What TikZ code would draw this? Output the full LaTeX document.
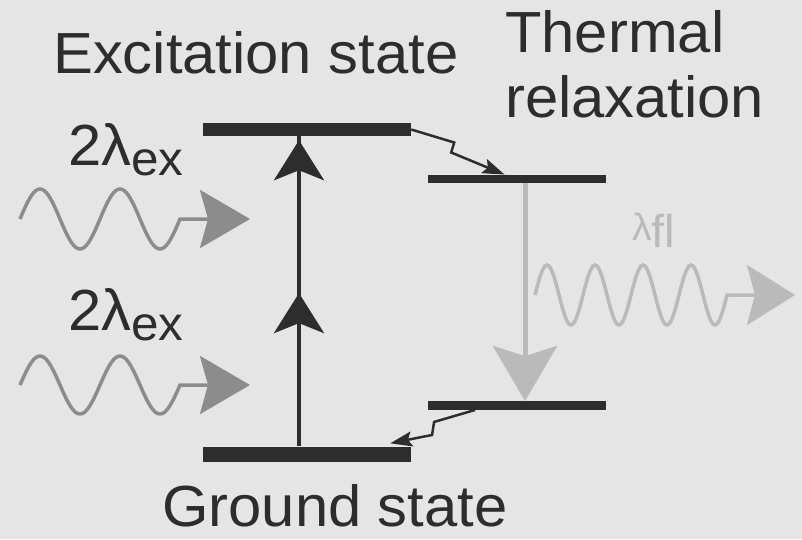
\documentclass[tikz,border=0pt]{standalone}
\usepackage{fontspec}
\setmainfont[FakeStretch=1.03]{Liberation Sans}
\usetikzlibrary{positioning, arrows.meta, calc, decorations.markings}
\definecolor{paper}{RGB}{229,229,229}
\definecolor{ink}{RGB}{45,45,45}
\definecolor{midgray}{RGB}{140,140,140}
\definecolor{palegray}{RGB}{186,186,186}

\begin{document}
\begin{tikzpicture}[x=1pt, y=-1pt,
  lbl/.style={inner sep=0pt, anchor=base west, text=ink, font=\fontsize{58}{65}\selectfont},
  levelbar/.style={fill=ink, inner sep=0pt, minimum width=208pt, minimum height=13pt},
  sublevel/.style={fill=ink, inner sep=0pt, minimum width=178pt, minimum height=8.5pt},
  photon/.style={midgray, line width=3.5pt, -{Stealth[length=50pt, width=58pt, inset=8pt]}},
  emission/.style={palegray, line width=3.5pt, -{Stealth[length=48pt, width=60pt, inset=8pt]}},
  decay/.style={palegray, line width=5pt, -{Stealth[length=55pt, width=64pt, inset=10pt]}},
  relax/.style={ink, line width=2.5pt, -{Stealth[length=22pt, width=15pt, inset=4pt]}},
  pump/.style={ink, line width=4pt, postaction={decorate},
    decoration={markings,
      mark=at position 0.494 with {\arrow{Stealth[length=40pt, width=50pt, inset=10pt]}},
      mark=at position 0.987 with {\arrow{Stealth[length=40pt, width=50pt, inset=10pt]}}}}
]
  \fill[paper] (0,0) rectangle (802,539);
  \useasboundingbox (0,0) rectangle (802,539);

  \node[levelbar] (exc) at (307,129.5) {};
  \node[levelbar, minimum height=15pt] (gnd) at (307,454) {};
  \node[sublevel] (vibup) at (517,179) {};
  \node[sublevel] (viblo) at (517,405.5) {};

  \node[lbl] (exlab) at (53,73) {Excitation state};
  \node[lbl, anchor=north west, align=left] (thlab) at (505,10.7) {Thermal\\relaxation};
  \node[lbl] (gslab) at (162,526) {Ground state};
  \node[lbl] (exA) at (68,165) {2λ\raisebox{-10pt}{\fontsize{48}{48}\selectfont ex}};
  \node[lbl] (exB) at (68,330) {2λ\raisebox{-10pt}{\fontsize{48}{48}\selectfont ex}};
  \node[lbl, text=palegray] (fllab) at (632,240)
    {{\fontsize{38}{38}\selectfont λ}\raisebox{-7pt}{\fontsize{46}{46}\selectfont fl}};

  \coordinate (pumpx) at (299,0);
  \coordinate (decx) at (525,0);
  \coordinate (hitA) at (250,219);
  \coordinate (hitB) at (250,385);
  \coordinate (emit) at (795,295);

  \draw[pump] (gnd.north -| pumpx) -- (exc.south -| pumpx);
  \draw[decay] (vibup.south -| decx) -- (viblo.north -| decx);
  \draw[relax] (exc.east) -- ++(43,13) -- ++(-3,10)
    -- ($(vibup.north west)!0.43!(vibup.north east)$);
  \draw[relax] ($(viblo.south west)!0.265!(viblo.south east)$) -- ++(-41,12)
    -- ++(-2,13) -- ($(gnd.north east)+(-21,-3)$);

  \draw[photon] plot[domain=20:180, samples=81] (\x, {219-30*sin(4.5*(\x-20))}) -- (hitA);
  \draw[photon] plot[domain=20:180, samples=81] (\x, {385-29*sin(4.5*(\x-20))}) -- (hitB);
  \draw[emission] plot[domain=535:727, samples=97] (\x, {295-30*sin(7.5*(\x-535))}) -- (emit);
\end{tikzpicture}
\end{document}
